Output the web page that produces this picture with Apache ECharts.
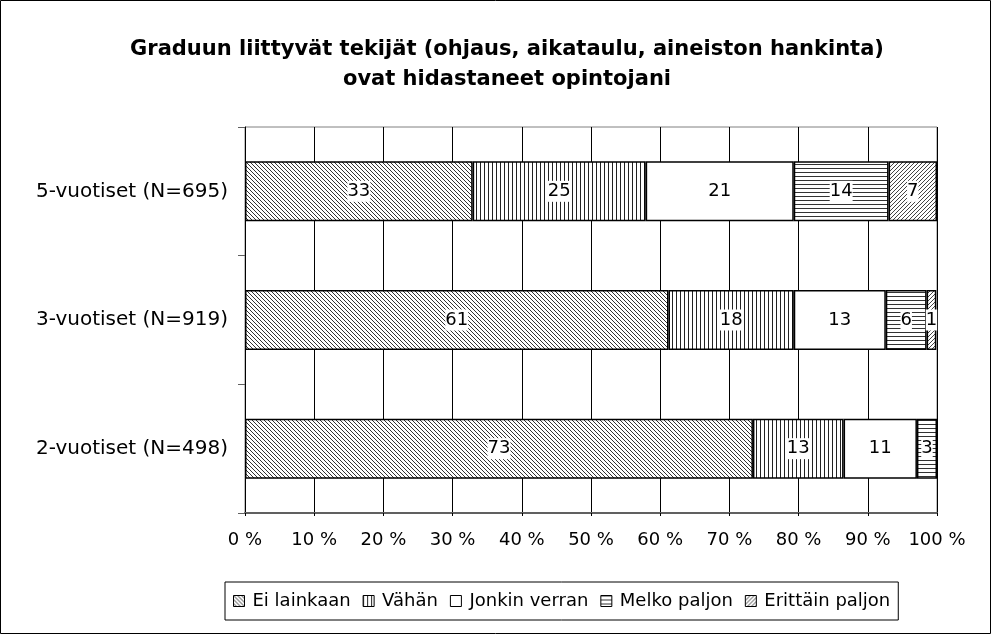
<!DOCTYPE html>
<html>
<head>
<meta charset="utf-8">
<script src="https://cdn.jsdelivr.net/npm/echarts@6/dist/echarts.min.js"></script>
<style>
  html, body { margin: 0; padding: 0; background: #fff; }
  #main { width: 992px; height: 635px; }
</style>
</head>
<body>
<div id="main"></div>
<script>
// categories bottom -> top (category axis starts at bottom)
const categories = ['2-vuotiset (N=498)', '3-vuotiset (N=919)', '5-vuotiset (N=695)']
const seriesNames = ['Ei lainkaan', 'Vähän', 'Jonkin verran', 'Melko paljon', 'Erittäin paljon']

// percentages
const eiLainkaan = [73.4, 61.2, 32.9]
const vahan = [13.1, 18.1, 25.0]
const jonkinVerran = [10.6, 13.3, 21.4]
const melkoPaljon = [2.9, 5.9, 13.7]
const erittainPaljon = [0, 1.4, 7.0]

const xTicks = ['0 %', '10 %', '20 %', '30 %', '40 %', '50 %', '60 %', '70 %', '80 %', '90 %', '100 %']

const FONT = 'DejaVu Sans'

// hatch patterns
function makePattern(size, fn, ink) {
  const c = document.createElement('canvas')
  c.width = size
  c.height = size
  const ctx = c.getContext('2d')
  ctx.fillStyle = '#fff'
  ctx.fillRect(0, 0, size, size)
  ctx.fillStyle = ink
  for (let x = 0; x < size; x++) {
    for (let y = 0; y < size; y++) {
      if (fn(x, y)) ctx.fillRect(x, y, 1, 1)
    }
  }
  return { image: c, repeat: 'repeat' }
}

const patterns = [
  makePattern(4, (x, y) => (x - y + 8) % 4 === 0, '#333'), // \\\
  makePattern(4, (x, y) => x % 4 === 0, '#222'), // |||
  '#ffffff',
  makePattern(4, (x, y) => y % 4 === 0, '#333'), // ===
  makePattern(4, (x, y) => (x + y) % 4 === 0, '#444') // ///
]

const allData = [eiLainkaan, vahan, jonkinVerran, melkoPaljon, erittainPaljon]

const chart = echarts.init(document.getElementById('main'))

const series = seriesNames.map(function(name, i) {
  return {
    name: name,
    type: 'bar',
    stack: 'total',
    barWidth: 60,
    itemStyle: {
      color: patterns[i],
      borderColor: '#000',
      borderWidth: 1.5
    },
    label: {
      show: true,
      position: 'inside',
      color: '#000',
      fontSize: 18,
      fontFamily: FONT,
      backgroundColor: '#fff',
      padding: [2, 0, 1, 0],
      formatter: function(p) {
        return Math.round(p.value)
      }
    },
    data: allData[i].map(function(v) {
      return v > 0 ? v : { value: v, label: { show: false }, itemStyle: { borderWidth: 0 } }
    })
  }
})

chart.setOption({
  backgroundColor: '#fff',
  animation: false,
  textStyle: { fontFamily: FONT },
  title: {
    text: 'Graduun liittyvät tekijät (ohjaus, aikataulu, aineiston hankinta)\novat hidastaneet opintojani',
    left: 502,
    top: 30,
    textAlign: 'center',
    textStyle: {
      fontSize: 21,
      fontWeight: 'bold',
      color: '#000',
      lineHeight: 30,
      fontFamily: FONT
    }
  },
  graphic: [{
    type: 'rect',
    shape: { x: 0.5, y: 0.5, width: 990, height: 633 },
    style: { fill: 'none', stroke: '#000', lineWidth: 1 }
  }],
  legend: {
    data: seriesNames,
    left: 225,
    top: 582,
    height: 40,
    padding: [10, 8, 10, 8],
    itemGap: 12,
    itemWidth: 11,
    itemHeight: 11,
    icon: 'rect',
    borderColor: '#000',
    borderWidth: 1,
    itemStyle: { borderColor: '#000', borderWidth: 1 },
    textStyle: { fontSize: 18, color: '#000', fontFamily: FONT, padding: [0, 0, 0, 3] }
  },
  grid: {
    left: 245,
    right: 55,
    top: 127,
    bottom: 122,
    show: true,
    borderColor: '#808080',
    borderWidth: 1
  },
  xAxis: {
    type: 'value',
    min: 0,
    max: 100,
    interval: 10,
    axisLine: { show: true, lineStyle: { color: '#606060', width: 2 } },
    axisTick: { show: true, length: 3, lineStyle: { color: '#000' } },
    splitLine: { show: true, lineStyle: { color: '#000', width: 1 } },
    axisLabel: {
      color: '#000',
      fontSize: 18,
      fontFamily: FONT,
      margin: 18,
      formatter: function(v) {
        return xTicks[v / 10]
      }
    }
  },
  yAxis: {
    type: 'category',
    data: categories,
    axisLine: { show: true, lineStyle: { color: '#000', width: 1 } },
    axisTick: { show: true, length: 7, lineStyle: { color: '#606060' } },
    axisLabel: { color: '#000', fontSize: 20, fontFamily: FONT, margin: 17 }
  },
  series: series
})
</script>
</body>
</html>
